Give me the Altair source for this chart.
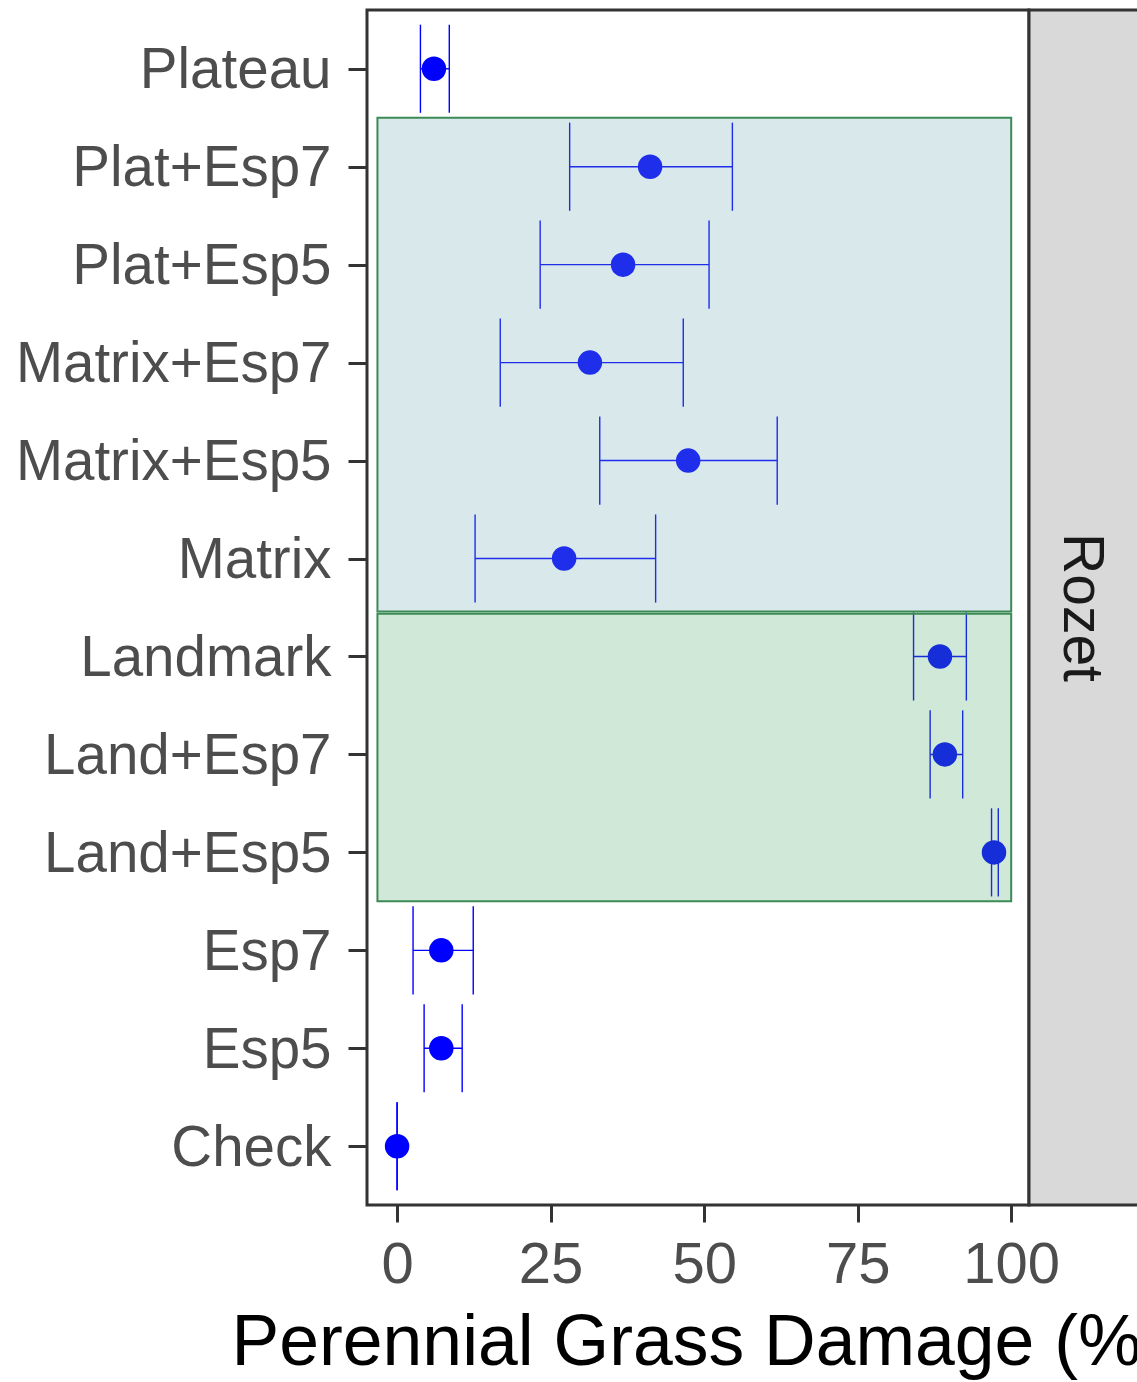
import altair as alt
import pandas as pd

# ---- data ----
treatments = ["Plateau", "Plat+Esp7", "Plat+Esp5", "Matrix+Esp7", "Matrix+Esp5",
              "Matrix", "Landmark", "Land+Esp7", "Land+Esp5", "Esp7", "Esp5", "Check"]
mean_damage = [6.0, 41.2, 36.8, 31.4, 47.4, 27.2, 88.4, 89.2, 97.2, 7.2, 7.2, 0.0]
lower_ci = [3.8, 28.1, 23.3, 16.8, 33.0, 12.7, 84.1, 86.8, 96.8, 2.6, 4.4, 0.0]
upper_ci = [8.5, 54.6, 50.8, 46.6, 61.9, 42.1, 92.7, 92.1, 97.9, 12.4, 10.6, 0.0]

# highlighted treatment groups (x extent and row extent in data units)
group_names = ["Plateau / Matrix mixes", "Landmark mixes"]
group_xmin = [-3.2, -3.2]
group_xmax = [100.0, 100.0]
group_ytop = [11.5, 6.435]
group_ybottom = [6.46, 3.5]

facet_label = ["Rozet"]

# ---- tables ----
n = len(treatments)
df = pd.DataFrame({
    "treatment": treatments,
    "mean": mean_damage,
    "lower": lower_ci,
    "upper": upper_ci,
    "row": list(range(n, 0, -1)),
})
groups = pd.DataFrame({
    "group": group_names,
    "xmin": group_xmin,
    "xmax": group_xmax,
    "ytop": group_ytop,
    "ybottom": group_ybottom,
})
strip = pd.DataFrame({"facet": facet_label})

W, H = 662, 1195

x_scale = alt.Scale(domain=[-4.9, 102.9], nice=False, zero=False)
y_scale = alt.Scale(domain=[0.4, n + 0.6], nice=False, zero=False)

label_js = "[" + ",".join("'" + t + "'" for t in treatments[::-1]) + "][datum.value - 1]"

x_axis = alt.Axis(values=[0, 25, 50, 75, 100], tickSize=17, labelPadding=14,
                  labelFlush=False, title="Perennial Grass Damage (%)",
                  titleFontSize=71.5, titleColor="#000000", titleFontWeight="normal",
                  titleY=159, titleBaseline="alphabetic", titleLimit=0)
y_axis = alt.Axis(values=list(range(1, n + 1)), labelExpr=label_js, tickSize=19,
                  labelPadding=17, title=None, labelFlush=False, labelLimit=0,
                  labelFontSize=56.5, labelOffset=2)

X = lambda f: alt.X(f, type="quantitative", scale=x_scale, axis=x_axis)
Y = lambda f: alt.Y(f, type="quantitative", scale=y_scale, axis=y_axis)

base = alt.Chart(df)

hline = base.mark_rule(color="#0000FF", strokeWidth=1.4).encode(
    x=X("lower"), x2="upper", y=Y("row"))

caps = base.transform_calculate(ylo="datum.row - 0.45", yhi="datum.row + 0.45")
cap_lo = caps.mark_rule(color="#0000FF", strokeWidth=1.4).encode(
    x=X("lower"), y=Y("ylo"), y2="yhi")
cap_hi = caps.mark_rule(color="#0000FF", strokeWidth=1.4).encode(
    x=X("upper"), y=Y("ylo"), y2="yhi")

points = base.mark_circle(size=600, opacity=1, color="#0000FF").encode(
    x=X("mean"), y=Y("row"))

shade = alt.Chart(groups).mark_rect(fillOpacity=0.27, stroke="#3C8A56",
                                    strokeWidth=2, strokeOpacity=1).encode(
    x=X("xmin"), x2="xmax", y=Y("ytop"), y2="ybottom",
    fill=alt.Fill("group:N", legend=None,
                  scale=alt.Scale(domain=group_names, range=["#6FAAB4", "#51AA6F"])))

strip_bg = alt.Chart(strip).mark_rect(fill="#D9D9D9", stroke="#333333", strokeWidth=3).encode(
    x=alt.value(W), x2=alt.value(W + 300), y=alt.value(0), y2=alt.value(H))

strip_text = alt.Chart(strip).mark_text(angle=90, fontSize=57, font="Liberation Sans",
                                        color="#1A1A1A", align="center",
                                        baseline="middle").encode(
    x=alt.value(W + 52), y=alt.value(H / 2), text="facet:N")

chart = alt.layer(hline, cap_lo, cap_hi, points, shade, strip_bg, strip_text).properties(
    width=W, height=H,
    autosize=alt.AutoSizeParams(type="none"),
    padding={"left": 367, "top": 10, "right": 108, "bottom": 177},
).configure_view(
    stroke="#333333", strokeWidth=3
).configure_axis(
    labelFont="Liberation Sans", titleFont="Liberation Sans", grid=False, domain=False,
    tickColor="#333333", tickWidth=3, labelColor="#4D4D4D", labelFontSize=58
)

chart.save("out.html", embed_options={"renderer": "svg", "actions": False})
